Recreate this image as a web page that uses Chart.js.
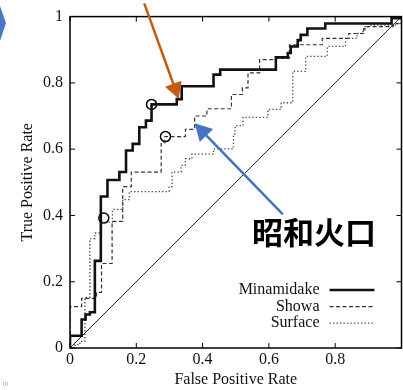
<!DOCTYPE html>
<html>
<head>
<meta charset="utf-8">
<script src="https://cdn.jsdelivr.net/npm/chart.js@4.4.0/dist/chart.umd.min.js"></script>
<style>
  body { margin: 0; background: #fff; overflow: hidden; }
  #wrap { position: relative; width: 408px; height: 390px; }
</style>
</head>
<body>
<div id="wrap"><canvas id="roc"></canvas></div>
<script>
// ROC curves (x = false positive rate, y = true positive rate after each step)
const minamidakeX = [0, 0, 0.035, 0.047, 0.06, 0.075, 0.093, 0.113, 0.149, 0.169, 0.189, 0.209, 0.229, 0.246, 0.322, 0.337, 0.433, 0.453, 0.621, 0.657, 0.666, 0.687, 0.696, 0.716, 0.77, 0.97, 1];
const minamidakeY = [0, 0.037, 0.086, 0.101, 0.108, 0.263, 0.457, 0.507, 0.531, 0.596, 0.616, 0.666, 0.686, 0.735, 0.751, 0.79, 0.825, 0.84, 0.877, 0.89, 0.91, 0.929, 0.945, 0.964, 0.979, 0.995, 1];

const showaX = [0, 0, 0.035, 0.08, 0.095, 0.127, 0.159, 0.185, 0.275, 0.286, 0.348, 0.376, 0.413, 0.487, 0.52, 0.537, 0.572, 0.621, 0.662, 0.761, 0.841, 0.886, 0.896, 0.975, 1];
const showaY = [0, 0.125, 0.15, 0.168, 0.255, 0.382, 0.487, 0.531, 0.62, 0.638, 0.66, 0.70, 0.722, 0.765, 0.785, 0.83, 0.87, 0.875, 0.915, 0.934, 0.949, 0.964, 0.97, 0.979, 1];

const surfaceX = [0, 0.015, 0.03, 0.045, 0.06, 0.075, 0.095, 0.128, 0.159, 0.179, 0.299, 0.308, 0.335, 0.348, 0.368, 0.433, 0.493, 0.498, 0.522, 0.597, 0.637, 0.672, 0.711, 0.776, 0.831, 0.866, 0.884, 0.89, 0.905, 0.985, 1];
const surfaceY = [0, 0.01, 0.02, 0.153, 0.33, 0.347, 0.38, 0.418, 0.448, 0.472, 0.487, 0.531, 0.551, 0.571, 0.585, 0.601, 0.646, 0.671, 0.696, 0.72, 0.74, 0.835, 0.88, 0.91, 0.934, 0.949, 0.955, 0.97, 0.974, 0.979, 1];

const diagX = [0, 1];
const diagY = [0, 1];

// circled operating points
const markerX = [0.102, 0.246, 0.288];
const markerY = [0.392, 0.735, 0.638];

const seriesNames = ['Minamidake', 'Showa', 'Surface'];
const xTickLabels = ['0', '0.2', '0.4', '0.6', '0.8', ''];
const yTickLabels = ['0', '0.2', '0.4', '0.6', '0.8', '1'];
const xTitle = 'False Positive Rate';
const yTitle = 'True Positive Rate';
const calloutText = '昭和火口';

// arrows, given as [fromX, fromY, toX, toY] in data units
const orangeArrow = [0.224, 1.04, 0.328, 0.752];
const blueArrow = [0.642, 0.403, 0.376, 0.678];

const SERIF = '"Liberation Serif", "Times New Roman", serif';

function pts(xs, ys) {
  return xs.map((x, i) => ({ x: x, y: ys[i] }));
}

function arrow(ctx, x1, y1, x2, y2, color, head) {
  const a = Math.atan2(y2 - y1, x2 - x1);
  ctx.strokeStyle = color;
  ctx.fillStyle = color;
  ctx.lineWidth = 2.5;
  ctx.beginPath();
  ctx.moveTo(x1, y1);
  ctx.lineTo(x2 - Math.cos(a) * head * 0.8, y2 - Math.sin(a) * head * 0.8);
  ctx.stroke();
  ctx.beginPath();
  ctx.moveTo(x2, y2);
  ctx.lineTo(x2 - head * Math.cos(a) + head * 0.55 * Math.sin(a), y2 - head * Math.sin(a) - head * 0.55 * Math.cos(a));
  ctx.lineTo(x2 - head * Math.cos(a) - head * 0.55 * Math.sin(a), y2 - head * Math.sin(a) + head * 0.55 * Math.cos(a));
  ctx.closePath();
  ctx.fill();
}

// frame with inward ticks, legend, arrows and callout
const extras = {
  id: 'extras',
  afterDraw(chart) {
    const ctx = chart.ctx;
    const area = chart.chartArea;
    const xs = chart.scales.x, ys = chart.scales.y;
    ctx.save();

    ctx.strokeStyle = '#000';
    ctx.lineWidth = 1.5;
    ctx.strokeRect(area.left, area.top, area.right - area.left, area.bottom - area.top);
    ctx.lineWidth = 1;
    ctx.beginPath();
    xs.ticks.forEach(t => {
      const p = xs.getPixelForValue(t.value);
      ctx.moveTo(p, area.bottom); ctx.lineTo(p, area.bottom - 5);
      ctx.moveTo(p, area.top); ctx.lineTo(p, area.top + 5);
    });
    ys.ticks.forEach(t => {
      const p = ys.getPixelForValue(t.value);
      ctx.moveTo(area.left, p); ctx.lineTo(area.left + 5, p);
      ctx.moveTo(area.right, p); ctx.lineTo(area.right - 5, p);
    });
    ctx.stroke();

    // legend
    ctx.font = '16px ' + SERIF;
    ctx.textAlign = 'right';
    ctx.textBaseline = 'middle';
    seriesNames.forEach((name, i) => {
      const ds = chart.data.datasets[i];
      const y = area.bottom - 58 + i * 16.6;
      ctx.fillStyle = '#111';
      ctx.fillText(name, area.right - 82, y);
      ctx.strokeStyle = ds.borderColor;
      ctx.lineWidth = ds.borderWidth;
      ctx.setLineDash(ds.borderDash || []);
      ctx.beginPath();
      ctx.moveTo(area.right - 72, y);
      ctx.lineTo(area.right - 27, y);
      ctx.stroke();
    });
    ctx.setLineDash([]);

    arrow(ctx, xs.getPixelForValue(orangeArrow[0]), ys.getPixelForValue(orangeArrow[1]),
      xs.getPixelForValue(orangeArrow[2]), ys.getPixelForValue(orangeArrow[3]), '#C55A11', 16);
    arrow(ctx, xs.getPixelForValue(blueArrow[0]), ys.getPixelForValue(blueArrow[1]),
      xs.getPixelForValue(blueArrow[2]), ys.getPixelForValue(blueArrow[3]), '#4472C4', 17);

    ctx.fillStyle = '#000';
    ctx.font = 'bold 31px "Noto Sans CJK JP", sans-serif';
    ctx.textAlign = 'left';
    ctx.fillText(calloutText, 252, 232);

    // slide decoration at the left edge
    ctx.fillStyle = '#4a78c8';
    ctx.beginPath();
    ctx.moveTo(0, 6); ctx.lineTo(6, 23); ctx.lineTo(0, 41);
    ctx.closePath();
    ctx.fill();
    ctx.fillStyle = '#aaa';
    ctx.font = '7px sans-serif';
    ctx.fillText('in', 3, 384);

    ctx.restore();
  }
};

new Chart(document.getElementById('roc'), {
  type: 'scatter',
  data: {
    datasets: [
      { label: seriesNames[0], data: pts(minamidakeX, minamidakeY), showLine: true, stepped: 'before',
        borderColor: '#111', borderWidth: 2.6, pointRadius: 0 },
      { label: seriesNames[1], data: pts(showaX, showaY), showLine: true, stepped: 'before',
        borderColor: '#333', borderWidth: 1.2, borderDash: [4, 2.5], pointRadius: 0 },
      { label: seriesNames[2], data: pts(surfaceX, surfaceY), showLine: true, stepped: 'before',
        borderColor: '#444', borderWidth: 1.3, borderDash: [1.3, 2.2], pointRadius: 0 },
      { label: 'chance', data: pts(diagX, diagY), showLine: true,
        borderColor: '#222', borderWidth: 1, pointRadius: 0 },
      { label: 'points', data: pts(markerX, markerY), showLine: false,
        pointRadius: 5, pointBorderWidth: 1.5, pointBorderColor: '#000', pointBackgroundColor: 'rgba(0,0,0,0)' }
    ]
  },
  options: {
    responsive: true,
    maintainAspectRatio: false,
    animation: false,
    layout: { padding: { left: 0, top: 13, right: 3, bottom: 0 } },
    plugins: { legend: { display: false }, tooltip: { enabled: false } },
    scales: {
      x: {
        type: 'linear', min: 0, max: 1,
        afterFit: s => { s.height = 42; },
        grid: { display: false, drawTicks: false },
        border: { display: false },
        ticks: { stepSize: 0.2, padding: 2, color: '#111', font: { family: SERIF, size: 16 },
          callback: (v, i) => xTickLabels[i] },
        title: { display: true, text: xTitle, color: '#111', font: { family: SERIF, size: 16 },
          padding: { top: 0, bottom: 1 } }
      },
      y: {
        type: 'linear', min: 0, max: 1,
        afterFit: s => { s.width = 70; },
        grid: { display: false, drawTicks: false },
        border: { display: false },
        ticks: { stepSize: 0.2, padding: 7, color: '#111', font: { family: SERIF, size: 16 },
          callback: (v, i) => yTickLabels[i] },
        title: { display: true, text: yTitle, color: '#111', font: { family: SERIF, size: 16 },
          padding: { top: 18, bottom: 0 } }
      }
    }
  },
  plugins: [extras]
});
</script>
</body>
</html>
